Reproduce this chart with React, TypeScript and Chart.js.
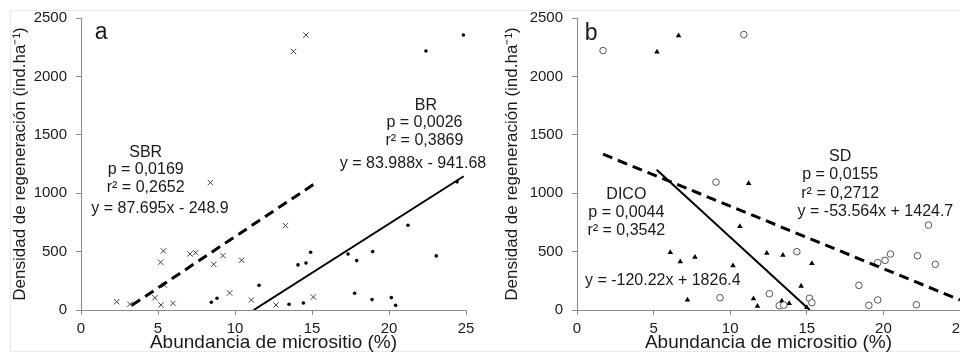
import React, { useEffect, useRef } from "react";
import { Chart, registerables } from "chart.js";

Chart.register(...registerables);

const FONT = '"Liberation Sans", Arial, Helvetica, sans-serif';
const TEXT = "#1a1a1a";
const AXIS = "#8a8a8a";

// ---------- Panel a ----------
const SBR_X = [2.32, 3.18, 4.8, 5.19, 5.35, 5.17, 5.41, 5.97, 7.08, 7.45, 8.4, 8.62, 9.22, 9.65, 10.43, 11.06, 12.66, 13.27, 13.79, 14.61, 15.09];
const SBR_Y = [71, 49, 105, 43, 506, 409, 214, 57, 480, 491, 1091, 391, 466, 146, 426, 86, 43, 723, 2214, 2354, 111];
const BR_X = [8.46, 8.83, 11.56, 13.51, 14.09, 14.44, 14.61, 14.91, 17.34, 17.9, 17.77, 18.94, 18.9, 20.15, 20.43, 21.23, 22.4, 23.07, 24.42, 24.83];
const BR_Y = [66, 100, 211, 49, 386, 60, 403, 494, 480, 423, 143, 500, 89, 106, 40, 726, 2217, 463, 1097, 2354];
const SBR_TREND_X = [3.3, 15.09];
const SBR_TREND_Y = [40, 1074];
const BR_TREND_X = [11.21, 24.85];
const BR_TREND_Y = [0, 1145];

const A_NOTES = ["a", "SBR", "p = 0,0169", "r² = 0,2652", "y = 87.695x - 248.9", "BR", "p = 0,0026", "r² = 0,3869", "y = 83.988x - 941.68"];
const A_NOTES_X = [0.9, 4.2, 4.2, 4.2, 5.13, 22.4, 22.3, 22.3, 21.56];
const A_NOTES_Y = [2374, 1346, 1200, 1046, 866, 1753, 1603, 1448, 1251];

// ---------- Panel b ----------
const SD_X = [1.7, 10.89, 9.07, 9.33, 14.35, 12.56, 13.2, 13.5, 15.17, 15.33, 18.4, 19.05, 19.63, 19.63, 20.11, 20.46, 22.15, 22.22, 22.94, 23.39];
const SD_Y = [2221, 2358, 1095, 105, 499, 139, 37, 42, 100, 63, 211, 40, 86, 405, 425, 479, 45, 464, 727, 391];
const DICO_X = [5.22, 6.63, 6.09, 6.74, 7.7, 7.21, 10.18, 10.63, 11.2, 11.52, 11.78, 12.39, 12.61, 13.44, 13.37, 13.48, 13.85, 14.63, 15.33, 15.0];
const DICO_Y = [2209, 2349, 493, 413, 453, 86, 379, 716, 1083, 97, 32, 487, 134, 470, 77, 40, 57, 205, 399, 22];
const SD_TREND_X = [1.7, 25];
const SD_TREND_Y = [1334, 86];
const DICO_TREND_X = [5.2, 15.19];
const DICO_TREND_Y = [1201, 0];

const B_NOTES = ["b", "DICO", "p = 0,0044", "r² = 0,3542", "y = -120.22x + 1826.4", "SD", "p = 0,0155", "r² = 0,2712", "y = -53.564x + 1424.7"];
const B_NOTES_X = [0.5, 3.22, 3.22, 3.22, 5.6, 17.18, 17.18, 17.18, 19.48];
const B_NOTES_Y = [2366, 991, 837, 683, 248, 1317, 1162, 999, 846];

const X_TICKS = [0, 5, 10, 15, 20, 25];
const Y_TICKS = [0, 500, 1000, 1500, 2000, 2500];

const X_TITLE = "Abundancia de micrositio (%)";
const Y_TITLE = "Densidad de regeneración (ind.ha⁻¹)";

const pts = (xs: number[], ys: number[]) => xs.map((x, i) => ({ x, y: ys[i] }));

const notesPlugin = {
  id: "notes",
  afterDatasetsDraw(chart: any, _args: any, opts: any) {
    const { ctx, scales } = chart;
    const xs = scales.x;
    const ys = scales.y;
    ctx.save();
    ctx.fillStyle = TEXT;
    ctx.textBaseline = "middle";
    opts.texts.forEach((t: string, i: number) => {
      const big = i === 0;
      ctx.font = `${big ? 23 : 16}px ${FONT}`;
      ctx.textAlign = big ? "left" : "center";
      ctx.fillText(t, xs.getPixelForValue(opts.xs[i]), ys.getPixelForValue(opts.ys[i]));
    });
    ctx.restore();
  },
};

function makeConfig(datasets: any[], notes: any, yAxisWidth: number, padRight: number, padTop: number, yTitlePad: number) {
  return {
    type: "scatter",
    data: { datasets },
    plugins: [notesPlugin],
    options: {
      responsive: false,
      animation: false,
      events: [],
      layout: { autoPadding: false, padding: { left: 0, right: padRight, top: padTop, bottom: 0 } },
      plugins: {
        legend: { display: false },
        tooltip: { enabled: false },
        notes,
      },
      scales: {
        x: {
          type: "linear",
          min: 0,
          max: 25,
          afterBuildTicks: (s: any) => { s.ticks = X_TICKS.map((v) => ({ value: v })); },
          afterFit: (s: any) => { s.height = 44; },
          grid: { display: true, drawOnChartArea: false, drawTicks: true, tickLength: 5, color: AXIS },
          border: { display: true, color: AXIS, width: 1 },
          ticks: { color: TEXT, font: { family: FONT, size: 15 }, padding: 5, maxRotation: 0, callback: (v: any) => String(v) },
          title: { display: true, text: X_TITLE, color: TEXT, font: { family: FONT, size: 19, lineHeight: 1.2 }, padding: { top: 0, bottom: 0 } },
        },
        y: {
          type: "linear",
          min: 0,
          max: 2500,
          afterBuildTicks: (s: any) => { s.ticks = Y_TICKS.map((v) => ({ value: v })); },
          afterFit: (s: any) => { s.width = yAxisWidth; },
          grid: { display: true, drawOnChartArea: false, drawTicks: true, tickLength: 5, color: AXIS },
          border: { display: true, color: AXIS, width: 1 },
          ticks: { color: TEXT, font: { family: FONT, size: 15 }, padding: 9, callback: (v: any) => String(v) },
          title: { display: true, text: Y_TITLE, color: TEXT, font: { family: FONT, size: 17, lineHeight: 1.2 }, padding: { top: yTitlePad, bottom: 0 } },
        },
      },
    },
  };
}

const trend = (xs: number[], ys: number[], dashed: boolean) => ({
  data: pts(xs, ys),
  showLine: true,
  pointRadius: 0,
  borderColor: "#000",
  borderWidth: dashed ? 3 : 2,
  borderDash: dashed ? [10, 6] : [],
  borderCapStyle: "butt",
  fill: false,
});

export default function App() {
  const refA = useRef<HTMLCanvasElement>(null);
  const refB = useRef<HTMLCanvasElement>(null);

  useEffect(() => {
    const a = new Chart(refA.current as any, makeConfig(
      [
        trend(SBR_TREND_X, SBR_TREND_Y, true),
        trend(BR_TREND_X, BR_TREND_Y, false),
        { data: pts(SBR_X, SBR_Y), pointStyle: "crossRot", pointRadius: 3.8, borderColor: "#444", backgroundColor: "#444", pointBorderWidth: 1, clip: false },
        { data: pts(BR_X, BR_Y), pointStyle: "circle", pointRadius: 1.8, borderColor: "#000", backgroundColor: "#000", pointBorderWidth: 0, clip: false },
      ],
      { texts: A_NOTES, xs: A_NOTES_X, ys: A_NOTES_Y },
      81, 29, 18, 10
    ) as any);
    const b = new Chart(refB.current as any, makeConfig(
      [
        trend(SD_TREND_X, SD_TREND_Y, true),
        trend(DICO_TREND_X, DICO_TREND_Y, false),
        { data: pts(SD_X, SD_Y), pointStyle: "circle", pointRadius: 3.3, borderColor: "#555", backgroundColor: "#fff", pointBorderWidth: 1, clip: false },
        { data: pts(DICO_X, DICO_Y), pointStyle: "triangle", pointRadius: 3.2, borderColor: "#000", backgroundColor: "#000", pointBorderWidth: 0, clip: false },
      ],
      { texts: B_NOTES, xs: B_NOTES_X, ys: B_NOTES_Y },
      82, 15, 17, 7
    ) as any);
    return () => { a.destroy(); b.destroy(); };
  }, []);

  return (
    <div style={{ position: "fixed", left: 0, top: 0, width: 960, height: 354, overflow: "hidden", background: "#fff" }}>
      <div style={{ position: "absolute", left: 10, top: 10, width: 1000, height: 340, borderTop: "1px solid #eaeaea", borderLeft: "1px solid #eaeaea", borderBottom: "1px solid #eaeaea" }} />
      <canvas ref={refA} width={495} height={354} style={{ position: "absolute", left: 0, top: 0, width: 495, height: 354 }} />
      <canvas ref={refB} width={480} height={354} style={{ position: "absolute", left: 495, top: 0, width: 480, height: 354 }} />
    </div>
  );
}
